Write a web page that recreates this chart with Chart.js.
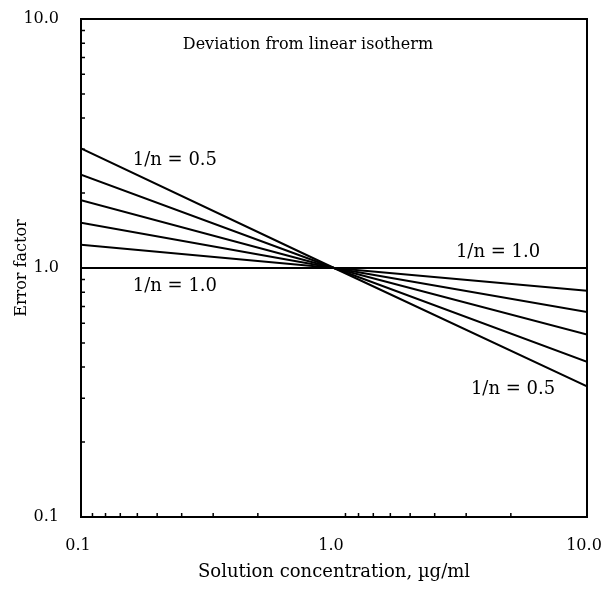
<!DOCTYPE html>
<html>
<head>
<meta charset="utf-8">
<script src="https://cdn.jsdelivr.net/npm/chart.js@4"></script>
<style>
  html, body { margin: 0; padding: 0; background: #fff; }
  #wrap { width: 603px; height: 589px; }
</style>
</head>
<body>
<div id="wrap"><canvas id="c"></canvas></div>
<script>
// ---- data ----
const concentrations = [0.1, 1.0, 10.0];
const seriesNames = ['1/n = 0.5', '1/n = 0.6', '1/n = 0.7', '1/n = 0.8', '1/n = 0.9', '1/n = 1.0'];
const errN05 = [3.02, 1.0, 0.335];
const errN06 = [2.37, 1.0, 0.42];
const errN07 = [1.87, 1.0, 0.54];
const errN08 = [1.52, 1.0, 0.665];
const errN09 = [1.24, 1.0, 0.81];
const errN10 = [1.0, 1.0, 1.0];
const xTickLabels = [0.1, 1.0, 10.0];
const yTickLabels = [0.1, 1.0, 10.0];
const xMinorTicks = [0.111, 0.125, 0.143, 0.167, 0.2, 0.25, 0.333, 0.5,
                     1.11, 1.25, 1.43, 1.67, 2, 2.5, 3.33, 5];
const yMinorTicks = [0.2, 0.3, 0.4, 0.5, 0.6, 0.7, 0.8, 0.9,
                     2, 3, 4, 5, 6, 7, 8, 9];
const chartTitleText = 'Deviation from linear isotherm';
const xTitleText = 'Solution concentration, \u00B5g/ml';
const yTitleText = 'Error factor';

const allSeries = [errN05, errN06, errN07, errN08, errN09, errN10];
const FONT = 'DejaVu Serif';

const datasets = allSeries.map((vals, i) => ({
  label: seriesNames[i],
  data: vals.map((v, j) => ({ x: concentrations[j], y: v })),
  borderColor: '#000',
  borderWidth: 2,
  pointRadius: 0,
  fill: false,
  tension: 0
}));

const annotations = [
  { text: chartTitleText, x: 0.789, y: 7.85, size: 16 },
  { text: '1/n = 0.5', x: 0.235, y: 2.70, size: 18 },
  { text: '1/n = 1.0', x: 0.235, y: 0.846, size: 18 },
  { text: '1/n = 1.0', x: 4.45, y: 1.16, size: 18 },
  { text: '1/n = 0.5', x: 5.10, y: 0.325, size: 18 }
];

const decorPlugin = {
  id: 'decor',
  afterDatasetsDraw(chart) {
    const { ctx, chartArea: a, scales } = chart;
    ctx.save();
    ctx.strokeStyle = '#000';
    ctx.lineWidth = 2;
    ctx.strokeRect(a.left, a.top, a.right - a.left, a.bottom - a.top);
    ctx.lineWidth = 1.5;
    ctx.beginPath();
    xMinorTicks.forEach(v => {
      const px = scales.x.getPixelForValue(v);
      ctx.moveTo(px, a.bottom);
      ctx.lineTo(px, a.bottom - 4);
    });
    yMinorTicks.forEach(v => {
      const py = scales.y.getPixelForValue(v);
      ctx.moveTo(a.left, py);
      ctx.lineTo(a.left + 4, py);
    });
    ctx.stroke();
    ctx.fillStyle = '#000';
    ctx.textAlign = 'center';
    ctx.textBaseline = 'middle';
    annotations.forEach(t => {
      ctx.font = t.size + 'px "' + FONT + '"';
      ctx.fillText(t.text, scales.x.getPixelForValue(t.x), scales.y.getPixelForValue(t.y));
    });
    ctx.restore();
  }
};

new Chart(document.getElementById('c'), {
  type: 'line',
  data: { datasets },
  plugins: [decorPlugin],
  options: {
    responsive: true,
    maintainAspectRatio: false,
    animation: false,
    layout: { padding: { top: 19, right: 16, left: 0, bottom: 0 } },
    plugins: { legend: { display: false }, tooltip: { enabled: false } },
    scales: {
      x: {
        type: 'logarithmic',
        min: 0.1,
        max: 10,
        afterBuildTicks: s => { s.ticks = xTickLabels.map(v => ({ value: v })); },
        afterFit: s => { s.height = 72; s.paddingLeft = 0; s.paddingRight = 0; },
        grid: { display: false },
        border: { display: false },
        ticks: {
          autoSkip: false, maxRotation: 0, padding: 11, labelOffset: -3,
          color: '#000', font: { family: FONT, size: 16 },
          callback: v => Number(v).toFixed(1)
        },
        title: {
          display: true, text: xTitleText, color: '#000',
          font: { family: FONT, size: 18 }, padding: { top: 0, bottom: 6 }
        }
      },
      y: {
        type: 'logarithmic',
        min: 0.1,
        max: 10,
        afterBuildTicks: s => { s.ticks = yTickLabels.map(v => ({ value: v })); },
        afterFit: s => { s.width = 81; s.paddingTop = 0; s.paddingBottom = 0; },
        grid: { display: false },
        border: { display: false },
        ticks: {
          autoSkip: false, padding: 14,
          color: '#000', font: { family: FONT, size: 16 },
          callback: v => Number(v).toFixed(1)
        },
        title: {
          display: true, text: yTitleText, color: '#000',
          font: { family: FONT, size: 16 }, padding: { top: 12, bottom: 0 }
        }
      }
    }
  }
});
</script>
</body>
</html>
